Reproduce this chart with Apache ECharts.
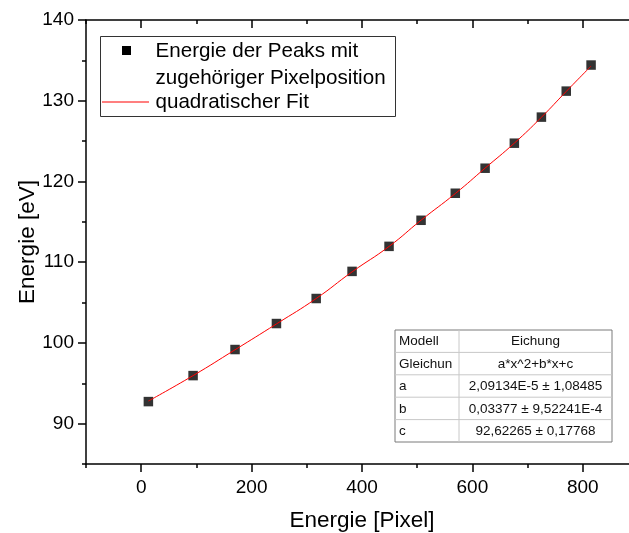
<!DOCTYPE html>
<html>
<head>
<meta charset="utf-8">
<script src="https://cdn.jsdelivr.net/npm/echarts@6/dist/echarts.min.js"></script>
<style>
html,body{margin:0;padding:0;background:#fff;}
#c{width:629px;height:533px;}
</style>
</head>
<body>
<div id="c"></div>
<script>
// ---- data ----
const pixelX = [13, 94, 170, 245, 317, 382, 449, 507, 569, 623, 676, 725, 770, 815];
const energyY = [92.73, 95.95, 99.18, 102.4, 105.5, 108.86, 111.96, 115.19, 118.54, 121.64, 124.74, 127.97, 131.19, 134.42];
const fitX = [13, 94, 170, 245, 317, 382, 449, 507, 569, 623, 676, 725, 770, 815];
const fitY = [92.8, 95.95, 99.15, 102.35, 105.5, 108.8, 111.95, 115.2, 118.5, 121.65, 124.75, 127.95, 131.15, 134.3];
const xMajorTicks = [0, 200, 400, 600, 800];
const xMinorTicks = [-100, 100, 300, 500, 700, 900];
const yMajorTicks = [90, 100, 110, 120, 130, 140];
const yMinorTicks = [85, 95, 105, 115, 125, 135];
const tableLabels = ['Modell', 'Gleichun', 'a', 'b', 'c'];
const tableValues = ['Eichung', 'a*x^2+b*x+c', '2,09134E-5 \u00b1 1,08485', '0,03377 \u00b1 9,52241E-4', '92,62265 \u00b1 0,17768'];
const legendScatter = ['Energie der Peaks mit', 'zugeh\u00f6riger Pixelposition'];
const legendFit = 'quadratischer Fit';

// ---- chart ----
const FONT = '"Liberation Sans", Arial, sans-serif';
const chart = echarts.init(document.getElementById('c'), null, {renderer: 'canvas'});

const X_MIN = -100, X_MAX = 900, Y_MIN = 85, Y_MAX = 140;

function makeAxis(kind, pos, ticks, len, inside, labels, showLine, extra) {
  const ax = {
    type: 'value', position: pos,
    min: kind === 'x' ? X_MIN : Y_MIN, max: kind === 'x' ? X_MAX : Y_MAX,
    axisLine: {show: showLine, onZero: false, lineStyle: {color: '#000', width: 1.5}},
    axisTick: {show: true, customValues: ticks, length: len, inside: inside, lineStyle: {color: '#000', width: 1.5}},
    axisLabel: labels ? {show: true, customValues: labels, fontSize: 19, color: '#000', fontFamily: FONT,
                         margin: kind === 'x' ? 14 : 12} : {show: false},
    splitLine: {show: false},
    nameMoveOverlap: false
  };
  return Object.assign(ax, extra || {});
}

const rowTop = 330, rowH = 22.4, tblLeft = 395, tblW = 217, colX = 459;
const tableGraphics = [];
tableGraphics.push({type: 'rect', shape: {x: tblLeft, y: rowTop, width: tblW, height: rowH * tableLabels.length},
  style: {fill: '#fff', stroke: '#7a7a7a', lineWidth: 1}, z: 100});
for (let i = 1; i < tableLabels.length; i++) {
  tableGraphics.push({type: 'line', shape: {x1: tblLeft, y1: rowTop + rowH * i, x2: tblLeft + tblW, y2: rowTop + rowH * i},
    style: {stroke: '#c8c8c8', lineWidth: 1}, z: 101});
}
tableGraphics.push({type: 'line', shape: {x1: colX, y1: rowTop, x2: colX, y2: rowTop + rowH * tableLabels.length},
  style: {stroke: '#c8c8c8', lineWidth: 1}, z: 101});
tableLabels.forEach((t, i) => {
  tableGraphics.push({type: 'text', x: tblLeft + 4, y: rowTop + rowH * i + rowH / 2 + 0.5,
    style: {text: t, font: '13.5px ' + FONT, fill: '#111', verticalAlign: 'middle', align: 'left'}, z: 102});
  tableGraphics.push({type: 'text', x: (colX + tblLeft + tblW) / 2, y: rowTop + rowH * i + rowH / 2 + 0.5,
    style: {text: tableValues[i], font: '13.5px ' + FONT, fill: '#111', verticalAlign: 'middle', align: 'center'}, z: 102});
});

const legendGraphics = [
  {type: 'rect', shape: {x: 100.5, y: 36.5, width: 295, height: 80}, style: {fill: '#fff', stroke: '#333', lineWidth: 1}, z: 100},
  {type: 'rect', shape: {x: 122, y: 46, width: 9, height: 9}, style: {fill: '#000'}, z: 101},
  {type: 'text', x: 155.5, y: 51, style: {text: legendScatter[0], font: '20.6px ' + FONT, fill: '#000', verticalAlign: 'middle'}, z: 101},
  {type: 'text', x: 155.5, y: 78, style: {text: legendScatter[1], font: '20.6px ' + FONT, fill: '#000', verticalAlign: 'middle'}, z: 101},
  {type: 'line', shape: {x1: 102, y1: 102, x2: 149, y2: 102}, style: {stroke: '#ff0000', fill: null, lineWidth: 1.2}, z: 101},
  {type: 'text', x: 155.5, y: 102, style: {text: legendFit, font: '20.6px ' + FONT, fill: '#000', verticalAlign: 'middle'}, z: 101}
];

const option = {
  animation: false,
  backgroundColor: '#fff',
  textStyle: {fontFamily: FONT},
  grid: {left: 86, right: -9, top: 20, bottom: 69, containLabel: false, outerBoundsMode: 'none'},
  xAxis: [
    makeAxis('x', 'bottom', xMajorTicks, 8, false, xMajorTicks, true, {
      name: 'Energie [Pixel]', nameLocation: 'middle', nameGap: 45,
      nameTextStyle: {fontSize: 22.5, color: '#000', fontFamily: FONT}
    }),
    makeAxis('x', 'bottom', xMinorTicks, 4, false, null, false),
    makeAxis('x', 'top', xMajorTicks, 8, true, null, true),
    makeAxis('x', 'top', xMinorTicks, 4, true, null, false)
  ],
  yAxis: [
    makeAxis('y', 'left', yMajorTicks, 8, false, yMajorTicks, true, {
      name: 'Energie [eV]', nameLocation: 'middle', nameGap: 47,
      nameTextStyle: {fontSize: 22.5, color: '#000', fontFamily: FONT}
    }),
    makeAxis('y', 'left', yMinorTicks, 4, false, null, false),
    makeAxis('y', 'right', yMajorTicks, 8, true, null, true),
    makeAxis('y', 'right', yMinorTicks, 4, true, null, false)
  ],
  series: [
    {
      name: legendScatter.join('\n'), type: 'scatter', xAxisIndex: 0, yAxisIndex: 0,
      symbol: 'rect', symbolSize: 9.5,
      itemStyle: {color: '#000'},
      data: pixelX.map((x, i) => [x, energyY[i]]), z: 2
    },
    {
      name: legendFit, type: 'line', xAxisIndex: 0, yAxisIndex: 0,
      smooth: true, showSymbol: false, symbol: 'none',
      lineStyle: {color: '#ff0000', width: 1},
      data: fitX.map((x, i) => [x, fitY[i]]), z: 3
    }
  ],
  graphic: legendGraphics.concat(tableGraphics)
};
chart.setOption(option);
</script>
</body>
</html>
